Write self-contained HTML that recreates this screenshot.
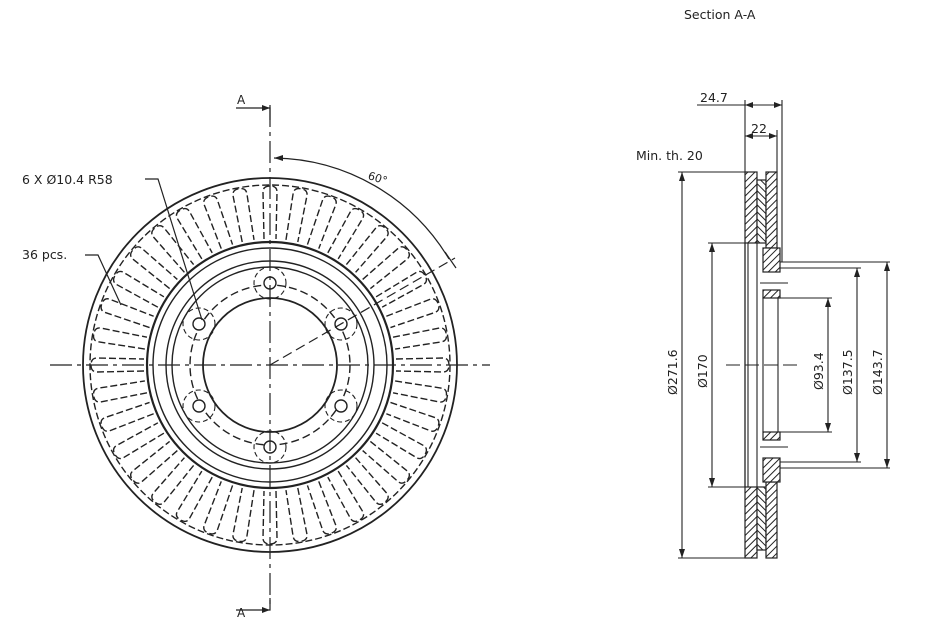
<!DOCTYPE html>
<html><head><meta charset="utf-8"><style>
html,body{margin:0;padding:0;background:#fff;}
svg{display:block}
text{font-family:"DejaVu Sans","Liberation Sans",sans-serif;fill:#222;}
</style></head><body>
<svg width="950" height="633" viewBox="0 0 950 633" xmlns="http://www.w3.org/2000/svg">
<defs>
<pattern id="h1" width="5" height="5" patternUnits="userSpaceOnUse" patternTransform="rotate(45)"><rect width="5" height="5" fill="#fff"/><line x1="0" y1="0" x2="0" y2="5" stroke="#222" stroke-width="2"/></pattern>
<pattern id="h2" width="5" height="5" patternUnits="userSpaceOnUse" patternTransform="rotate(-45)"><rect width="5" height="5" fill="#fff"/><line x1="0" y1="0" x2="0" y2="5" stroke="#222" stroke-width="2"/></pattern>
<g id="vane">
<path d="M264 239 L263 192 Q263 186 270 186 Q277 186 277 192 L276 239" fill="none" stroke="#222" stroke-width="1.4" stroke-dasharray="7,3"/>
</g>
</defs>

<g fill="none" stroke="#222" stroke-width="1.4">
<circle cx="270" cy="365" r="187" stroke-width="1.8"/>
<circle cx="270" cy="365" r="180" stroke-dasharray="7,3"/>
<circle cx="270" cy="365" r="123" stroke-width="2.2"/>
<circle cx="270" cy="365" r="117"/>
<circle cx="270" cy="365" r="104"/>
<circle cx="270" cy="365" r="98"/>
<circle cx="270" cy="365" r="67" stroke-width="1.8"/>
<circle cx="270" cy="365" r="80" stroke-dasharray="8,4"/>
</g>
<g>
<use href="#vane" transform="rotate(0 270 365)"/><use href="#vane" transform="rotate(10 270 365)"/>
<use href="#vane" transform="rotate(20 270 365)"/><use href="#vane" transform="rotate(30 270 365)"/>
<use href="#vane" transform="rotate(40 270 365)"/><use href="#vane" transform="rotate(50 270 365)"/>
<use href="#vane" transform="rotate(60 270 365)"/><use href="#vane" transform="rotate(70 270 365)"/>
<use href="#vane" transform="rotate(80 270 365)"/><use href="#vane" transform="rotate(90 270 365)"/>
<use href="#vane" transform="rotate(100 270 365)"/><use href="#vane" transform="rotate(110 270 365)"/>
<use href="#vane" transform="rotate(120 270 365)"/><use href="#vane" transform="rotate(130 270 365)"/>
<use href="#vane" transform="rotate(140 270 365)"/><use href="#vane" transform="rotate(150 270 365)"/>
<use href="#vane" transform="rotate(160 270 365)"/><use href="#vane" transform="rotate(170 270 365)"/>
<use href="#vane" transform="rotate(180 270 365)"/><use href="#vane" transform="rotate(190 270 365)"/>
<use href="#vane" transform="rotate(200 270 365)"/><use href="#vane" transform="rotate(210 270 365)"/>
<use href="#vane" transform="rotate(220 270 365)"/><use href="#vane" transform="rotate(230 270 365)"/>
<use href="#vane" transform="rotate(240 270 365)"/><use href="#vane" transform="rotate(250 270 365)"/>
<use href="#vane" transform="rotate(260 270 365)"/><use href="#vane" transform="rotate(270 270 365)"/>
<use href="#vane" transform="rotate(280 270 365)"/><use href="#vane" transform="rotate(290 270 365)"/>
<use href="#vane" transform="rotate(300 270 365)"/><use href="#vane" transform="rotate(310 270 365)"/>
<use href="#vane" transform="rotate(320 270 365)"/><use href="#vane" transform="rotate(330 270 365)"/>
<use href="#vane" transform="rotate(340 270 365)"/><use href="#vane" transform="rotate(350 270 365)"/>
</g>
<g fill="#fff" stroke="#222" stroke-width="1.4">
<circle cx="270" cy="283" r="6"/><circle cx="341" cy="324" r="6"/><circle cx="341" cy="406" r="6"/>
<circle cx="270" cy="447" r="6"/><circle cx="199" cy="406" r="6"/><circle cx="199" cy="324" r="6"/>
</g>
<g fill="none" stroke="#222" stroke-width="1.1" stroke-dasharray="5,3">
<circle cx="270" cy="283" r="16"/><circle cx="341" cy="324" r="16"/><circle cx="341" cy="406" r="16"/>
<circle cx="270" cy="447" r="16"/><circle cx="199" cy="406" r="16"/><circle cx="199" cy="324" r="16"/>
</g>
<g stroke="#222" stroke-width="1.2" fill="none">
<line x1="270" y1="105" x2="270" y2="605" stroke-dasharray="22,5,4,5"/>
<line x1="50" y1="365" x2="490" y2="365" stroke-dasharray="22,5,4,5"/>
<line x1="270" y1="365" x2="455" y2="258" stroke-dasharray="10,5"/>
<path d="M236 108 H270 V120" /><path d="M236 610 H270 V598"/>
<path d="M274 158 A207 207 0 0 1 449 259"/>
<line x1="445" y1="252" x2="456" y2="268"/>
<path d="M145 179 H158 L202 320"/>
<path d="M85 255 H98 L121 305"/>
</g>
<polygon points="270,108 262,105 262,111" fill="#222"/>
<polygon points="270,610 262,607 262,613" fill="#222"/>
<polygon points="274,158 283,155 283,161" fill="#222"/>
<text x="237" y="104" font-size="12">A</text>
<text x="237" y="617" font-size="12">A</text>
<text x="368" y="182" font-size="11" transform="rotate(18 378 178)">60°</text>
<text x="22" y="184" font-size="12.5">6 X Ø10.4 R58</text>
<text x="22" y="259" font-size="12.5">36 pcs.</text>

<text x="684" y="19" font-size="12.5">Section A-A</text>
<text x="636" y="160" font-size="12.5">Min. th. 20</text>
<text x="700" y="102" font-size="12.5">24.7</text>
<text x="751" y="133" font-size="12.5">22</text>
<g stroke="#222" stroke-width="1.1" fill="none">
<line x1="697" y1="105" x2="782" y2="105"/>
<line x1="745" y1="136" x2="777" y2="136"/>
<line x1="745" y1="100" x2="745" y2="172"/>
<line x1="782" y1="100" x2="782" y2="262"/>
<line x1="777" y1="130" x2="777" y2="172"/>
<line x1="678" y1="172" x2="745" y2="172"/><line x1="678" y1="558" x2="745" y2="558"/>
<line x1="682" y1="172" x2="682" y2="558"/>
<line x1="708" y1="243" x2="748" y2="243"/><line x1="708" y1="487" x2="748" y2="487"/>
<line x1="712" y1="243" x2="712" y2="487"/>
<line x1="780" y1="298" x2="832" y2="298"/><line x1="780" y1="432" x2="832" y2="432"/>
<line x1="828" y1="298" x2="828" y2="432"/>
<line x1="780" y1="268" x2="861" y2="268"/><line x1="780" y1="462" x2="861" y2="462"/>
<line x1="857" y1="268" x2="857" y2="462"/>
<line x1="780" y1="262" x2="890" y2="262"/><line x1="780" y1="468" x2="890" y2="468"/>
<line x1="887" y1="262" x2="887" y2="468"/>
<line x1="726" y1="365" x2="800" y2="365" stroke-dasharray="14,5"/>
<line x1="745" y1="243" x2="745" y2="487" stroke-width="1.3"/>
<line x1="748" y1="243" x2="748" y2="487"/>
<line x1="757" y1="243" x2="757" y2="487"/>
<line x1="763" y1="298" x2="763" y2="432"/>
<line x1="778" y1="298" x2="778" y2="432"/>
<line x1="760" y1="283" x2="788" y2="283"/><line x1="760" y1="447" x2="788" y2="447"/>
</g>
<g stroke="#222" stroke-width="1.2">
<rect x="745" y="172" width="12" height="71" fill="url(#h1)"/>
<rect x="757" y="180" width="9" height="63" fill="url(#h2)"/>
<rect x="766" y="172" width="11" height="76" fill="url(#h1)"/>
<rect x="745" y="487" width="12" height="71" fill="url(#h1)"/>
<rect x="757" y="487" width="9" height="63" fill="url(#h2)"/>
<rect x="766" y="482" width="11" height="76" fill="url(#h1)"/>
<rect x="763" y="248" width="17" height="24" fill="url(#h1)"/>
<rect x="763" y="290" width="17" height="8" fill="url(#h1)"/>
<rect x="763" y="432" width="17" height="8" fill="url(#h1)"/>
<rect x="763" y="458" width="17" height="24" fill="url(#h1)"/>
</g>
<g fill="#222">
<polygon points="682,172 679,181 685,181"/><polygon points="682,558 679,549 685,549"/>
<polygon points="712,243 709,252 715,252"/><polygon points="712,487 709,478 715,478"/>
<polygon points="828,298 825,307 831,307"/><polygon points="828,432 825,423 831,423"/>
<polygon points="857,268 854,277 860,277"/><polygon points="857,462 854,453 860,453"/>
<polygon points="887,262 884,271 890,271"/><polygon points="887,468 884,459 890,459"/>
<polygon points="745,105 753,102 753,108"/><polygon points="782,105 774,102 774,108"/>
<polygon points="745,136 753,133 753,139"/><polygon points="777,136 769,133 769,139"/>
</g>
<g font-size="12.5">
<text transform="translate(677 395) rotate(-90)">Ø271.6</text>
<text transform="translate(707 388) rotate(-90)">Ø170</text>
<text transform="translate(823 390) rotate(-90)">Ø93.4</text>
<text transform="translate(852 395) rotate(-90)">Ø137.5</text>
<text transform="translate(882 395) rotate(-90)">Ø143.7</text>
</g>
</svg>
</body></html>
